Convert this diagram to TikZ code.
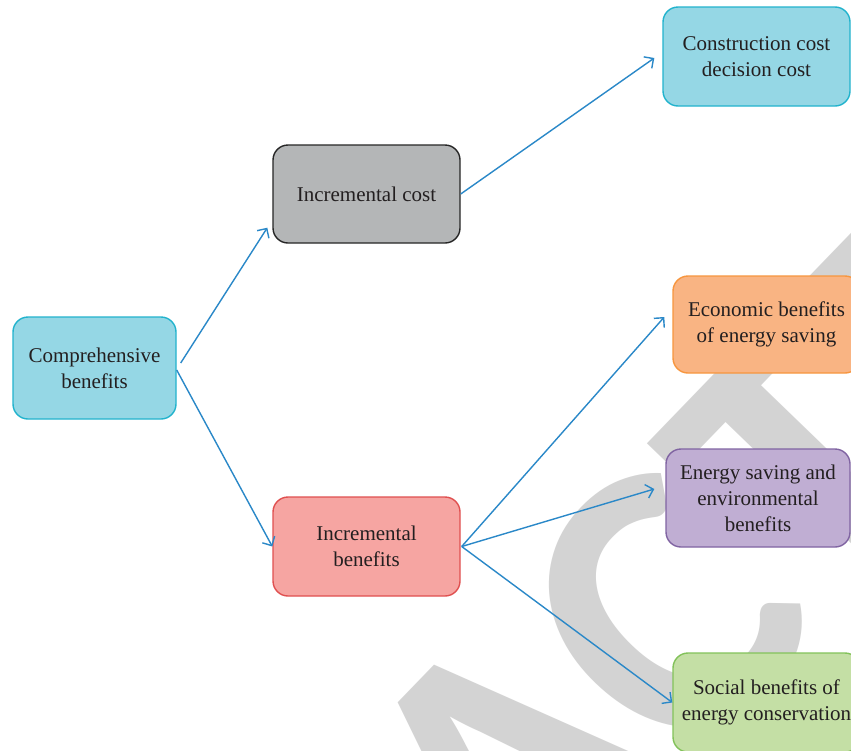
\documentclass[tikz,border=0pt]{standalone}
\usepackage{fontspec}
\setmainfont{Liberation Serif}
\newfontfamily\wmfont{Carlito}
\usetikzlibrary{arrows.meta}
\definecolor{txt}{HTML}{231F20}
\definecolor{arrblue}{HTML}{2A88C8}
\definecolor{wmgray}{HTML}{D3D3D3}
\definecolor{cyanfill}{HTML}{95D7E5}
\definecolor{cyanline}{HTML}{22B3CD}
\definecolor{grayfill}{HTML}{B4B6B7}
\definecolor{grayline}{HTML}{262626}
\definecolor{orangefill}{HTML}{F9B483}
\definecolor{orangeline}{HTML}{F7963F}
\definecolor{purplefill}{HTML}{C0AED3}
\definecolor{purpleline}{HTML}{8064A2}
\definecolor{redfill}{HTML}{F6A5A2}
\definecolor{redline}{HTML}{E05050}
\definecolor{greenfill}{HTML}{C4DFA5}
\definecolor{greenline}{HTML}{82C25A}
\tikzset{
  box/.style={rounded corners=15pt, line width=1.4pt, inner sep=0pt,
    minimum width=187pt, minimum height=98pt, align=center, text=txt,
    font=\fontsize{21}{26}\selectfont},
  arr/.style={draw=arrblue, line width=1.4pt,
    -{Straight Barb[length=7pt,width=14pt,line width=1.4pt]}},
  wm/.style={text=wmgray, inner sep=0pt, font=\wmfont\bfseries\fontsize{400}{400}\selectfont}
}
\begin{document}
\begin{tikzpicture}[x=1pt,y=-1pt]
\useasboundingbox (0,0) rectangle (851,750);
\fill[white] (0,0) rectangle (851,750);
\clip (0,0) rectangle (851,750);
\node[wm, rotate=46] (wm) at (513,770) {RETRACTED};
\node[box, fill=cyanfill, draw=cyanline, minimum width=163pt, minimum height=102pt] (comp) at (94.5,368) {Comprehensive\\benefits};
\node[box, fill=grayfill, draw=grayline] (icost) at (366.5,194) {Incremental cost};
\node[box, fill=cyanfill, draw=cyanline, minimum height=99pt] (cons) at (756.5,56.5) {Construction cost\\decision cost};
\node[box, fill=orangefill, draw=orangeline, minimum height=97pt] (econ) at (766.5,324.5) {Economic benefits\\of energy saving};
\node[box, fill=purplefill, draw=purpleline, minimum width=184pt] (esave) at (758,498) {Energy saving and\\environmental\\benefits};
\node[box, fill=redfill, draw=redline, minimum height=99pt] (ibene) at (366.5,546.5) {Incremental\\benefits};
\node[box, fill=greenfill, draw=greenline, minimum height=99pt] (social) at (766.5,702.5) {Social benefits of\\energy conservation};
\draw[arr] ([xshift=4pt,yshift=5pt]comp.east) -- ([xshift=-5pt,yshift=16pt]icost.south west);
\draw[arr] ([yshift=-2pt]comp.east) -- (ibene.west);
\draw[arr] (icost.east) -- ([xshift=-8pt,yshift=-1.5pt]cons.west);
\draw[arr] ([xshift=1pt]ibene.east) -- ([xshift=-8pt,yshift=7.5pt]econ.west);
\draw[arr] ([xshift=1pt]ibene.east) -- ([xshift=-11pt,yshift=9pt]esave.west);
\draw[arr] ([xshift=1pt]ibene.east) -- (social.west);
\end{tikzpicture}
\end{document}
